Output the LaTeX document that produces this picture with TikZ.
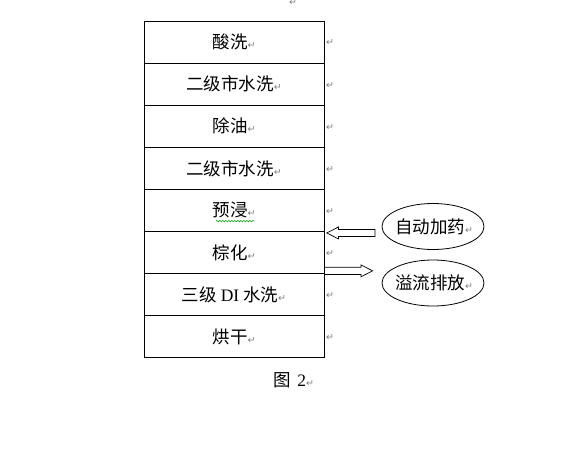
\documentclass[tikz,border=0pt]{standalone}
\usepackage{fontspec}
\setmainfont{Liberation Serif}
\newfontfamily\cjk{Noto Sans CJK SC}
\newfontfamily\markfont{DejaVu Sans}
\usetikzlibrary{positioning,shapes.geometric,shapes.arrows,decorations.pathmorphing}
\newcommand{\ret}{{\markfont\fontsize{9.5}{9.5}\selectfont\textcolor{gray}{↵}}}

\begin{document}
\begin{tikzpicture}[
    x=1pt, y=-1pt,
    stage/.style={rectangle, draw, line width=0.9pt, outer sep=0pt, inner sep=0pt, minimum width=180pt, minimum height=42.1pt, font=\fontsize{17.5}{19}\selectfont\cjk},
    tank/.style={ellipse, draw, line width=0.8pt, inner sep=0pt, minimum width=102pt, minimum height=46pt},
    tanktext/.style={font=\fontsize{17.5}{19}\selectfont\cjk, inner sep=0pt},
    flow/.style={single arrow, draw, line width=0.7pt, inner sep=3.2pt, minimum height=48.3pt, single arrow head extend=2.4pt, single arrow tip angle=54, single arrow head indent=0pt},
    retmark/.style={inner sep=0pt},
]
\useasboundingbox (0,0) rectangle (579,448);

% process line
\node[stage] (s1) at (234,42) {酸洗\ret};
\node[stage, below=0pt of s1] (s2) {二级市水洗\ret};
\node[stage, below=0pt of s2] (s3) {除油\ret};
\node[stage, below=0pt of s3] (s4) {二级市水洗\ret};
\node[stage, below=0pt of s4] (s5) {预浸\ret};
\node[stage, below=0pt of s5] (s6) {棕化\ret};
\node[stage, below=0pt of s6] (s7) {三级 {\rmfamily DI} 水洗\ret};
\node[stage, below=0pt of s7] (s8) {烘干\ret};

% spell-check squiggle
\draw[green!60!black, line width=0.5pt, decorate, decoration={snake, amplitude=0.8pt, segment length=3pt}]
    ([xshift=-18pt,yshift=-10.7pt]s5.center) -- ([xshift=20pt,yshift=-10.7pt]s5.center);

% paragraph marks
\node[retmark] (top) at (293,3) {\ret};
\node[retmark, right=2pt of s1.east, yshift=-1pt] (r1) {\ret};
\node[retmark, right=2pt of s2.east, yshift=-1pt] (r2) {\ret};
\node[retmark, right=2pt of s3.east, yshift=-1pt] (r3) {\ret};
\node[retmark, right=2pt of s4.east, yshift=-1pt] (r4) {\ret};
\node[retmark, right=2pt of s5.east, yshift=-1pt] (r5) {\ret};
\node[retmark, right=2pt of s6.east, yshift=-1pt] (r6) {\ret};
\node[retmark, right=2pt of s7.east, yshift=-1pt] (r7) {\ret};
\node[retmark, right=2pt of s8.east, yshift=-1pt] (r8) {\ret};

% dosing and overflow
\node[tank] (dose) at (433,226.5) {};
\node[tanktext] (dosetext) at ([xshift=1pt]dose.center) {自动加药\ret};
\node[tank] (drain) at (433,283) {};
\node[tanktext] (draintext) at ([xshift=1pt]drain.center) {溢流排放\ret};

\node[flow, shape border rotate=180, anchor=tip] (feed) at ([xshift=2pt,yshift=-1.5pt]s5.south east) {};
\node[flow, anchor=tail] (spill) at ([yshift=2.7pt]s6.south east) {};

% caption
\node[font=\fontsize{17.5}{19}\selectfont] (cap) at (294,380) {{\cjk 图}\,\,2\ret};
\end{tikzpicture}
\end{document}
